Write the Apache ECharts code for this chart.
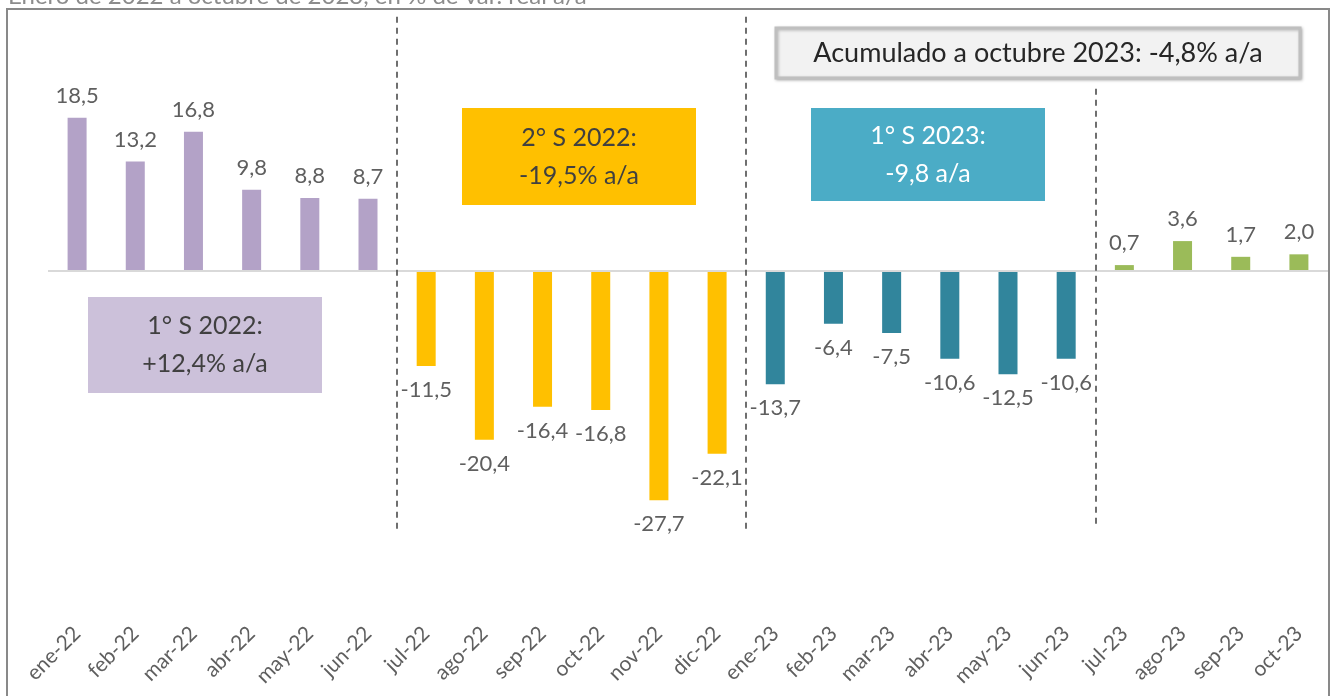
<!DOCTYPE html>
<html>
<head>
<meta charset="utf-8">
<script src="https://cdn.jsdelivr.net/npm/echarts@6/dist/echarts.min.js"></script>
<style>
  html, body { margin: 0; padding: 0; background: #fff; }
  #chart { width: 1334px; height: 696px; }
</style>
</head>
<body>
<div id="chart"></div>
<script>
const categories = [
  'ene-22', 'feb-22', 'mar-22', 'abr-22', 'may-22', 'jun-22',
  'jul-22', 'ago-22', 'sep-22', 'oct-22', 'nov-22', 'dic-22',
  'ene-23', 'feb-23', 'mar-23', 'abr-23', 'may-23', 'jun-23',
  'jul-23', 'ago-23', 'sep-23', 'oct-23'
]
const sem1_2022 = [18.5, 13.2, 16.8, 9.8, 8.8, 8.7]
const sem2_2022 = [-11.5, -20.4, -16.4, -16.8, -27.7, -22.1]
const sem1_2023 = [-13.7, -6.4, -7.5, -10.6, -12.5, -10.6]
const sem2_2023 = [0.7, 3.6, 1.7, 2.0]

const groups = [
  { data: sem1_2022, start: 0, color: '#b3a2c7' },
  { data: sem2_2022, start: 6, color: '#ffc000' },
  { data: sem1_2023, start: 12, color: '#31859c' },
  { data: sem2_2023, start: 18, color: '#9bbb59' }
]

const fmt = (v) => v.toFixed(1).replace('.', ',')
const font = 'Lato, "Noto Sans", sans-serif'

const barSeries = groups.map((g, gi) => {
  const data = categories.map((c, i) => {
    const k = i - g.start
    if (k < 0 || k >= g.data.length) return null
    const v = g.data[k]
    // label above positive bars, below negative ones
    return { value: v, label: { position: v >= 0 ? 'top' : 'bottom', distance: v >= 0 ? 11 : 13 } }
  })
  return {
    type: 'bar',
    stack: 'all',
    barWidth: 19,
    data: data,
    itemStyle: { color: g.color },
    label: {
      show: true,
      formatter: (p) => fmt(p.value),
      color: '#5f5f5f',
      fontSize: 22,
      fontFamily: font
    },
    markLine: gi === 0 ? {
      silent: true,
      symbol: 'none',
      label: { show: false },
      lineStyle: { color: '#d9d9d9', width: 2, type: 'solid' },
      data: [{ yAxis: 0 }]
    } : undefined
  }
})

const dividerSeries = {
  type: 'line',
  xAxisIndex: 1,
  data: [],
  markLine: {
    silent: true,
    symbol: 'none',
    label: { show: false },
    lineStyle: { color: '#404040', width: 1.5, type: [6, 5] },
    data: [
      [{ coord: [6, 30.7] }, { coord: [6, -31.3] }],
      [{ coord: [12, 30.7] }, { coord: [12, -31.3] }],
      [{ coord: [18, 22.0] }, { coord: [18, -31.0] }]
    ]
  }
}

function box(x, y, w, h, fill, textColor, lines) {
  return [
    { type: 'rect', shape: { x: x, y: y, width: w, height: h }, style: { fill: fill }, z: 10 },
    {
      type: 'text',
      x: x + w / 2,
      y: y + h / 2,
      z: 11,
      style: {
        text: lines.join('\n'),
        fill: textColor,
        fontSize: 25,
        fontFamily: font,
        lineHeight: 38,
        align: 'center',
        verticalAlign: 'middle'
      }
    }
  ]
}

const chart = echarts.init(document.getElementById('chart'))
chart.setOption({
  animation: false,
  grid: { left: 48, right: 6, top: 6, bottom: 94 },
  xAxis: [
    {
      type: 'category',
      data: categories,
      axisLine: { show: false },
      axisTick: { show: false },
      axisLabel: {
        rotate: 45,
        margin: 28,
        interval: 0,
        color: '#5f5f5f',
        fontSize: 21,
        fontFamily: font
      }
    },
    { type: 'value', min: 0, max: 22, show: false }
  ],
  yAxis: {
    type: 'value',
    min: -40,
    max: 32,
    show: false,
    splitLine: { show: false }
  },
  series: barSeries.concat([dividerSeries]),
  graphic: [
    {
      type: 'rect',
      shape: { x: 7, y: 9, width: 1322, height: 700 },
      style: { fill: 'none', stroke: '#898989', lineWidth: 2 },
      silent: true
    },
    {
      type: 'text',
      x: 8,
      y: -16,
      style: {
        text: 'Enero de 2022 a octubre de 2023, en % de var. real a/a',
        fill: '#8c8c8c',
        fontSize: 24,
        fontFamily: font
      }
    },
    ...box(88, 297, 234, 96, '#ccc1da', '#404040', ['1° S 2022:', '+12,4% a/a']),
    ...box(462, 108, 234, 97, '#ffc000', '#404040', ['2° S 2022:', '-19,5% a/a']),
    ...box(811, 108, 234, 93, '#4bacc6', '#ffffff', ['1° S 2023:', '-9,8 a/a']),
    {
      type: 'rect',
      shape: { x: 776, y: 28, width: 524, height: 50 },
      style: {
        fill: '#f2f2f2',
        stroke: '#bfbfbf',
        lineWidth: 3,
        shadowBlur: 3,
        shadowColor: 'rgba(0,0,0,0.25)',
        shadowOffsetX: 1,
        shadowOffsetY: 1
      },
      z: 10
    },
    {
      type: 'text',
      x: 1038,
      y: 53,
      z: 11,
      style: {
        text: 'Acumulado a octubre 2023: -4,8% a/a',
        fill: '#262626',
        fontSize: 27,
        fontFamily: font,
        align: 'center',
        verticalAlign: 'middle'
      }
    }
  ]
})
window.addEventListener('resize', () => chart.resize())
</script>
</body>
</html>
